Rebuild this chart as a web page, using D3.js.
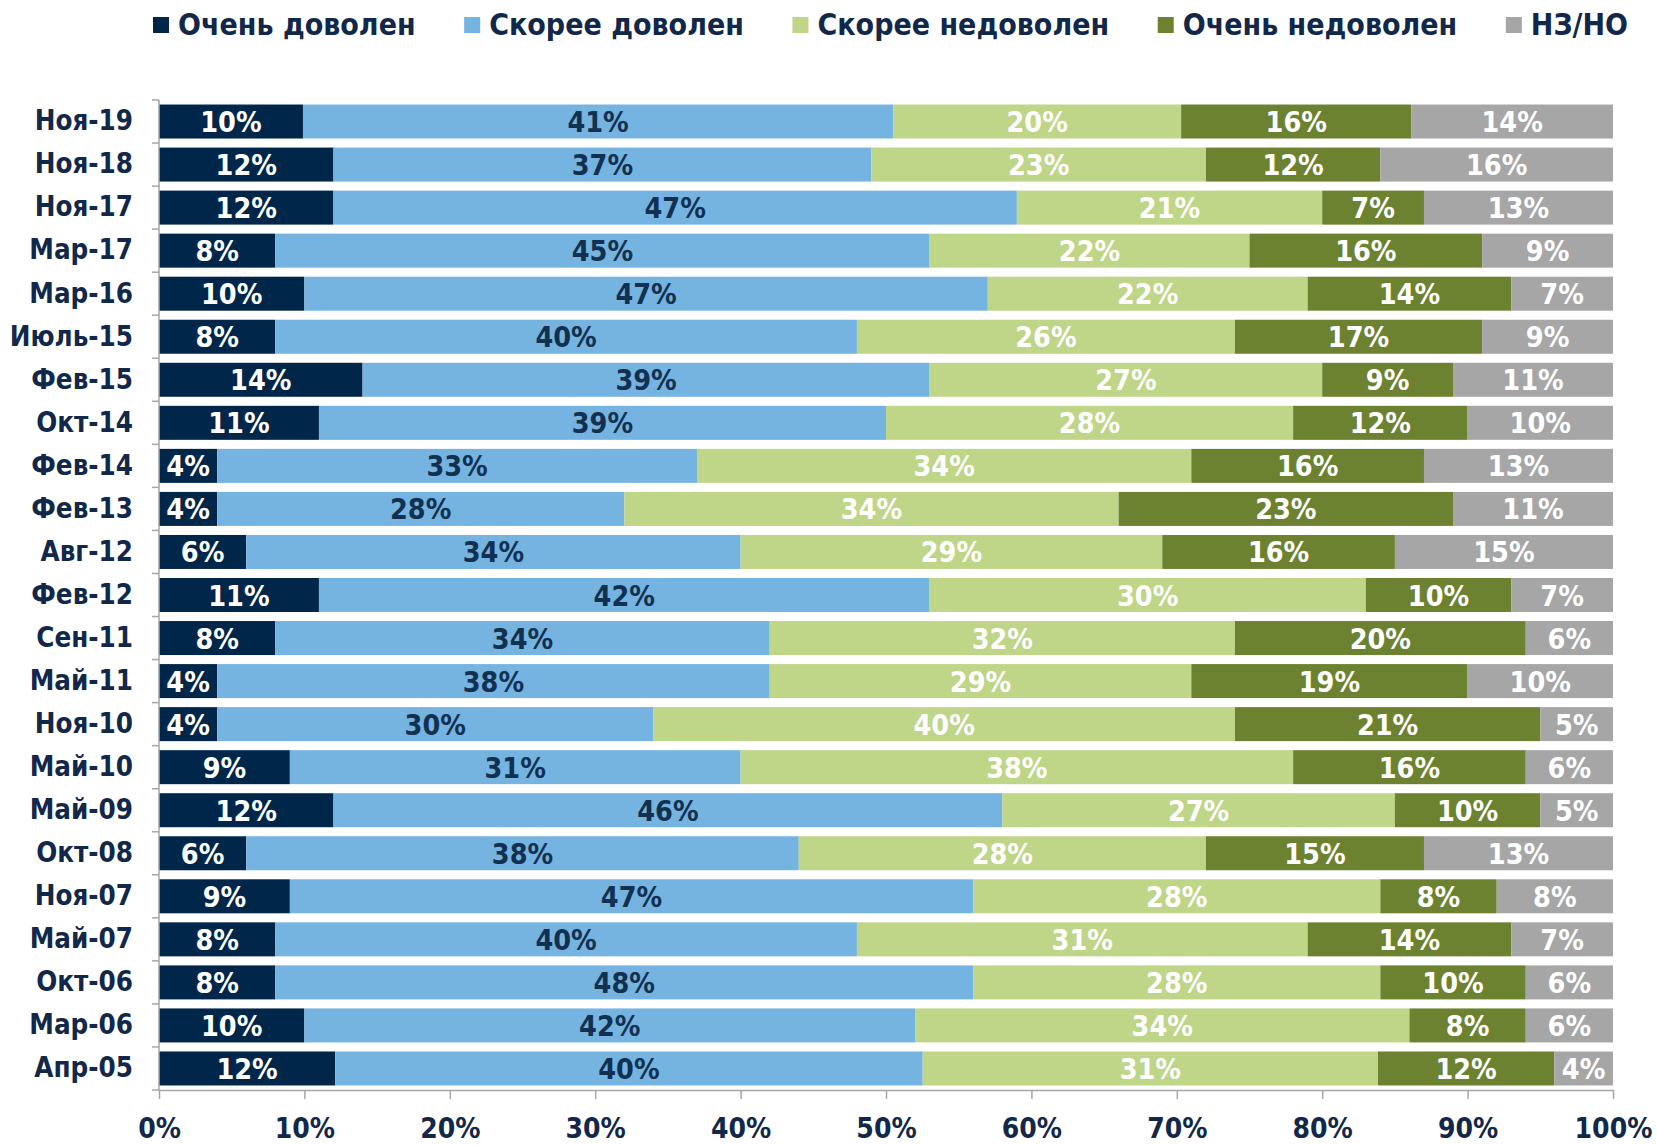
<!DOCTYPE html>
<html>
<head>
<meta charset="utf-8">
<script src="https://cdn.jsdelivr.net/npm/d3@7"></script>
<style>
  body { margin: 0; background: #fff; }
  #chart { width: 1657px; height: 1145px; }
</style>
</head>
<body>
<div id="chart"></div>
<script>
// Survey waves, top to bottom
const categories = ['Ноя-19', 'Ноя-18', 'Ноя-17', 'Мар-17', 'Мар-16', 'Июль-15', 'Фев-15', 'Окт-14',
  'Фев-14', 'Фев-13', 'Авг-12', 'Фев-12', 'Сен-11', 'Май-11', 'Ноя-10', 'Май-10', 'Май-09',
  'Окт-08', 'Ноя-07', 'Май-07', 'Окт-06', 'Мар-06', 'Апр-05'];

const seriesNames = ['Очень доволен', 'Скорее доволен', 'Скорее недоволен', 'Очень недоволен', 'НЗ/НО'];

const veryPleased     = [10, 12, 12, 8, 10, 8, 14, 11, 4, 4, 6, 11, 8, 4, 4, 9, 12, 6, 9, 8, 8, 10, 12];
const ratherPleased   = [41, 37, 47, 45, 47, 40, 39, 39, 33, 28, 34, 42, 34, 38, 30, 31, 46, 38, 47, 40, 48, 42, 40];
const ratherDispleased = [20, 23, 21, 22, 22, 26, 27, 28, 34, 34, 29, 30, 32, 29, 40, 38, 27, 28, 28, 31, 28, 34, 31];
const veryDispleased  = [16, 12, 7, 16, 14, 17, 9, 12, 16, 23, 16, 10, 20, 19, 21, 16, 10, 15, 8, 14, 10, 8, 12];
const noAnswer        = [14, 16, 13, 9, 7, 9, 11, 10, 13, 11, 15, 7, 6, 10, 5, 6, 5, 13, 8, 7, 6, 6, 4];

const xTicks = [0, 0.1, 0.2, 0.3, 0.4, 0.5, 0.6, 0.7, 0.8, 0.9, 1];

const colors = ['#00264A', '#75B3E0', '#BFD588', '#6C8230', '#A6A6A6'];
const labelColors = ['#fff', '#12304F', '#fff', '#fff', '#fff'];
const textColor = '#12284A';
const fontFamily = '"DejaVu Sans Condensed", "DejaVu Sans", sans-serif';

const width = 1657, height = 1145;
const margin = { left: 159, right: 44, top: 100, bottom: 55 };

const seriesValues = [veryPleased, ratherPleased, ratherDispleased, veryDispleased, noAnswer];
const rows = categories.map((c, i) => {
  const r = { cat: c };
  seriesNames.forEach((s, k) => { r[s] = seriesValues[k][i]; });
  return r;
});

const stacked = d3.stack()
  .keys(seriesNames)
  .offset(d3.stackOffsetExpand)(rows);

const x = d3.scaleLinear()
  .domain([0, 1])
  .range([margin.left, width - margin.right]);

const y = d3.scaleBand()
  .domain(categories)
  .range([margin.top, height - margin.bottom])
  .paddingInner(0.21)
  .paddingOuter(0.105);

const svg = d3.select('#chart')
  .append('svg')
  .attr('width', width)
  .attr('height', height)
  .style('font-family', fontFamily);

// Bars
const layers = svg.selectAll('g.layer')
  .data(stacked)
  .join('g')
  .attr('class', 'layer')
  .attr('fill', (d, i) => colors[i]);

layers.selectAll('rect')
  .data(d => d)
  .join('rect')
  .attr('x', d => x(d[0]))
  .attr('y', d => y(d.data.cat))
  .attr('width', d => x(d[1]) - x(d[0]))
  .attr('height', y.bandwidth());

// Value labels
stacked.forEach((layer, i) => {
  svg.append('g')
    .selectAll('text')
    .data(layer)
    .join('text')
    .attr('x', d => (x(d[0]) + x(d[1])) / 2)
    .attr('y', d => y(d.data.cat) + y.bandwidth() / 2 + 1)
    .attr('text-anchor', 'middle')
    .attr('dominant-baseline', 'central')
    .attr('fill', labelColors[i])
    .attr('font-size', '28.5px')
    .attr('font-weight', 'bold')
    .text(d => d.data[layer.key] + '%');
});

// Y axis: labels at band centres, ticks at band boundaries
const yAxis = svg.append('g')
  .attr('transform', `translate(${margin.left},0)`)
  .call(d3.axisLeft(y).tickSize(0).tickPadding(26));
yAxis.select('.domain').remove();
yAxis.selectAll('text')
  .attr('fill', textColor)
  .attr('font-size', '27.5px')
  .attr('font-weight', 'bold')
  .attr('font-family', fontFamily);

const halfGap = y.step() * y.paddingInner() / 2;
const bounds = categories.map(c => y(c) - halfGap).concat([y(categories[categories.length - 1]) + y.bandwidth() + halfGap]);
svg.append('line')
  .attr('x1', margin.left).attr('x2', margin.left)
  .attr('y1', bounds[0]).attr('y2', bounds[bounds.length - 1])
  .attr('stroke', '#A6A6A6').attr('stroke-width', 1.5);
svg.append('g')
  .selectAll('line')
  .data(bounds)
  .join('line')
  .attr('x1', margin.left - 7).attr('x2', margin.left)
  .attr('y1', d => d).attr('y2', d => d)
  .attr('stroke', '#A6A6A6').attr('stroke-width', 1.5);

// X axis
const xAxis = svg.append('g')
  .attr('transform', `translate(0,${bounds[bounds.length - 1]})`)
  .call(d3.axisBottom(x).tickValues(xTicks).tickFormat(d3.format('.0%')).tickSize(9).tickPadding(19).tickSizeOuter(0));
xAxis.select('.domain').attr('stroke', '#A6A6A6').attr('stroke-width', 1.5);
xAxis.selectAll('.tick line').attr('stroke', '#A6A6A6').attr('stroke-width', 1.5);
xAxis.selectAll('text')
  .attr('fill', textColor)
  .attr('font-size', '28px')
  .attr('font-weight', 'bold')
  .attr('font-family', fontFamily);

// Legend, spread between the first square and the right edge
const legend = svg.append('g');
const legendLeft = 153, legendRight = 1628, sq = 16, sqGap = 9, legendY = 24;
const items = legend.selectAll('g')
  .data(seriesNames)
  .join('g');
items.append('rect')
  .attr('width', sq).attr('height', sq)
  .attr('y', legendY - sq / 2 + 1)
  .attr('fill', (d, i) => colors[i]);
items.append('text')
  .attr('x', sq + sqGap)
  .attr('y', legendY)
  .attr('dominant-baseline', 'central')
  .attr('fill', textColor)
  .attr('font-size', '30px')
  .attr('font-weight', 'bold')
  .text(d => d);

const itemWidths = [];
items.each(function() {
  itemWidths.push(sq + sqGap + d3.select(this).select('text').node().getComputedTextLength());
});
const spacing = (legendRight - legendLeft - d3.sum(itemWidths)) / (seriesNames.length - 1);
let cx = legendLeft;
items.attr('transform', (d, i) => {
  const t = `translate(${cx},0)`;
  cx += itemWidths[i] + spacing;
  return t;
});
</script>
</body>
</html>
